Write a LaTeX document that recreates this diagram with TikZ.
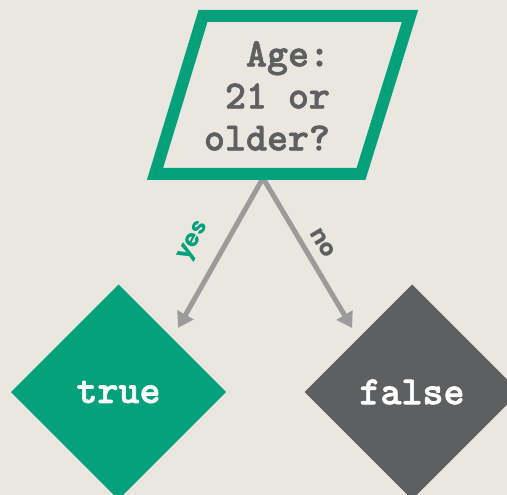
\documentclass[tikz,border=0pt]{standalone}
\usepackage{fontspec}
\newfontfamily\labelfont{Poppins}
\newfontfamily\codefont[FakeBold=1.6]{lmmonolt10-bold.otf}
\usetikzlibrary{positioning, calc}
\usetikzlibrary{shapes.geometric, arrows.meta}

\definecolor{paper}{RGB}{234,231,225}
\definecolor{mint}{RGB}{5,161,122}
\definecolor{slate}{RGB}{94,95,97}
\definecolor{wire}{RGB}{155,155,155}

\tikzset{
  answer/.style={diamond, aspect=1, minimum width=215pt, minimum height=215pt,
    inner sep=0pt, outer sep=0pt, text=white,
    font=\codefont\fontsize{40}{42}\selectfont},
  wirearrow/.style={draw=wire, line width=5pt,
    -{Triangle[width=18pt,length=15pt]}, shorten >=12pt},
  edgelabel/.style={sloped, inner sep=1pt, font=\labelfont\bfseries\fontsize{23}{26}\selectfont}
}

\begin{document}
\begin{tikzpicture}[x=1pt,y=-1pt]
\useasboundingbox (0,0) rectangle (507,495);
\fill[paper] (0,0) rectangle (507,495);
\clip (0,0) rectangle (507,495);

\coordinate (fork) at (263,178);
\node[answer, fill=mint] (yes) at (118.5,392) {true};
\node[answer, fill=slate] (no) at (412,392) {false};

\draw[wirearrow] (fork) -- node[edgelabel, pos=.485, yshift=27.5pt, text=mint] (yeslabel) {yes} (yes.north east);
\draw[wirearrow] (fork) -- node[edgelabel, pos=.464, yshift=18.5pt, text=slate] (nolabel) {no} (no.north west);

% question box
\draw[mint, line width=12pt, line join=miter, fill=paper]
  (155,174) -- (203,16) -- (410,16) -- (361,174) -- cycle;
\node[align=right, text=slate, inner sep=0pt,
  font=\codefont\fontsize{40}{42}\selectfont] (ask) at (267,96) {Age:\\21 or\\older?};
\end{tikzpicture}
\end{document}
